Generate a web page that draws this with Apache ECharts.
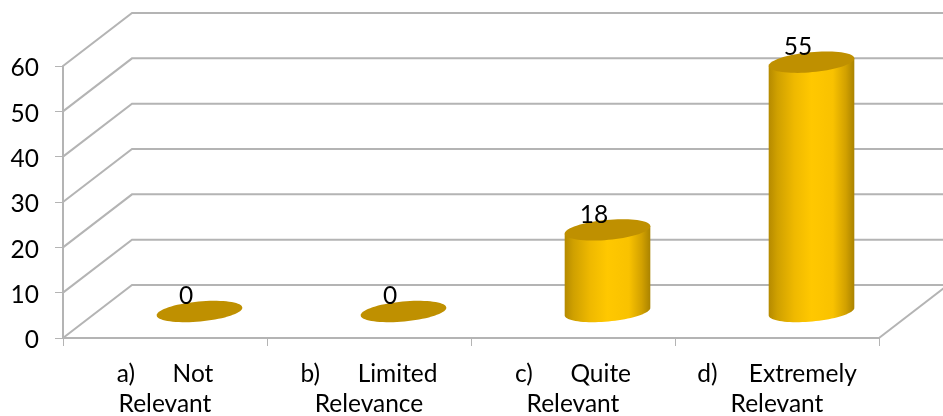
<!DOCTYPE html>
<html>
<head>
<meta charset="utf-8">
<style>html,body{margin:0;padding:0;background:#fff}#chart{width:943px;height:416px}</style>
<script src="https://cdn.jsdelivr.net/npm/echarts@6/dist/echarts.min.js"></script>
</head>
<body>
<div id="chart"></div>
<script>
// Responses per relevance rating
const categories = ['a)      Not\nRelevant', 'b)      Limited\nRelevance', 'c)      Quite\nRelevant', 'd)     Extremely\nRelevant'];
const counts = [0, 0, 18, 55];
const valueTicks = [0, 10, 20, 30, 40, 50, 60];

// Oblique projection of the chart box
const DEPTH_X = 69, DEPTH_Y = 53;
const WALL_COLOR = '#b4b4b4';
const TILT = -5.3 * Math.PI / 180;
const RX = 43, RY = 10;

function ellipsePoint(cx, cy, t) {
  const x = RX * Math.cos(t), y = RY * Math.sin(t);
  return [cx + x * Math.cos(TILT) - y * Math.sin(TILT),
          cy + x * Math.sin(TILT) + y * Math.cos(TILT)];
}

function renderWall(params, api) {
  const box = params.coordSys;
  const y = api.coord([0, api.value(0)])[1];
  const left = box.x, right = box.x + box.width;
  const children = [{
    type: 'polyline',
    shape: { points: [[left, y], [left + DEPTH_X, y - DEPTH_Y], [943, y - DEPTH_Y]] },
    style: { stroke: WALL_COLOR, lineWidth: 2, fill: null }
  }];
  if (api.value(0) === 0) {
    children.push({
      type: 'line',
      shape: { x1: right, y1: y, x2: right + DEPTH_X, y2: y - DEPTH_Y },
      style: { stroke: WALL_COLOR, lineWidth: 2 }
    });
  }
  return { type: 'group', children };
}

function renderCylinder(params, api) {
  const value = api.value(1);
  const top = api.coord([api.value(0), value]);
  const base = api.coord([api.value(0), 0]);
  const cx = top[0] + DEPTH_X / 2;
  const topY = top[1] - DEPTH_Y / 2;
  const baseY = base[1] - DEPTH_Y / 2;
  const children = [];
  if (value > 0) {
    const pts = [ellipsePoint(cx, topY, Math.PI)];
    for (let i = 0; i <= 40; i++) {
      pts.push(ellipsePoint(cx, baseY, Math.PI - Math.PI * i / 40));
    }
    pts.push(ellipsePoint(cx, topY, 0));
    children.push({
      type: 'polygon',
      shape: { points: pts },
      style: {
        fill: new echarts.graphic.LinearGradient(0, 0, 1, 0, [
          { offset: 0, color: '#b58a00' },
          { offset: 0.1, color: '#cfa000' },
          { offset: 0.3, color: '#efb900' },
          { offset: 0.5, color: '#ffc800' },
          { offset: 0.75, color: '#f9c200' },
          { offset: 0.9, color: '#d2a100' },
          { offset: 1, color: '#aa8300' }
        ])
      }
    });
  }
  const cap = [];
  for (let i = 0; i < 72; i++) cap.push(ellipsePoint(cx, topY, i * Math.PI / 36));
  children.push({ type: 'polygon', shape: { points: cap }, style: { fill: '#bf9000' } });
  children.push({
    type: 'text',
    style: {
      x: cx - 13.5, y: topY - 15,
      text: String(value),
      fill: '#000', font: '24.5px Lato',
      align: 'center', verticalAlign: 'middle'
    }
  });
  return { type: 'group', children };
}

const chart = echarts.init(document.getElementById('chart'), null, { renderer: 'canvas' });
chart.setOption({
  animation: false,
  backgroundColor: '#fff',
  grid: { left: 63, right: 64, top: 66, bottom: 78, outerBoundsMode: 'none' },
  xAxis: {
    type: 'category',
    data: categories,
    axisLine: { lineStyle: { color: WALL_COLOR, width: 2 } },
    axisTick: { show: true, length: 8, lineStyle: { color: WALL_COLOR, width: 1 } },
    axisLabel: { color: '#000', fontFamily: 'Lato', fontSize: 24.5, lineHeight: 30, margin: 21, interval: 0 }
  },
  yAxis: {
    type: 'value',
    min: 0,
    max: 60,
    interval: 10,
    axisLine: { show: true, lineStyle: { color: WALL_COLOR, width: 2 } },
    axisTick: { show: true, length: 8, lineStyle: { color: WALL_COLOR, width: 1 } },
    axisLabel: {
      margin: 24,
      formatter: '{n|{value}}',
      rich: { n: { color: '#000', fontFamily: 'Lato', fontSize: 24.5, padding: [5, 0, 0, 0] } }
    },
    splitLine: { show: false }
  },
  series: [
    {
      type: 'custom',
      z: 1,
      silent: true,
      data: valueTicks.map(v => [v]),
      encode: { y: 0 },
      renderItem: renderWall
    },
    {
      type: 'custom',
      z: 2,
      data: counts.map((v, i) => [i, v]),
      encode: { x: 0, y: 1 },
      renderItem: renderCylinder
    }
  ]
});
</script>
</body>
</html>
